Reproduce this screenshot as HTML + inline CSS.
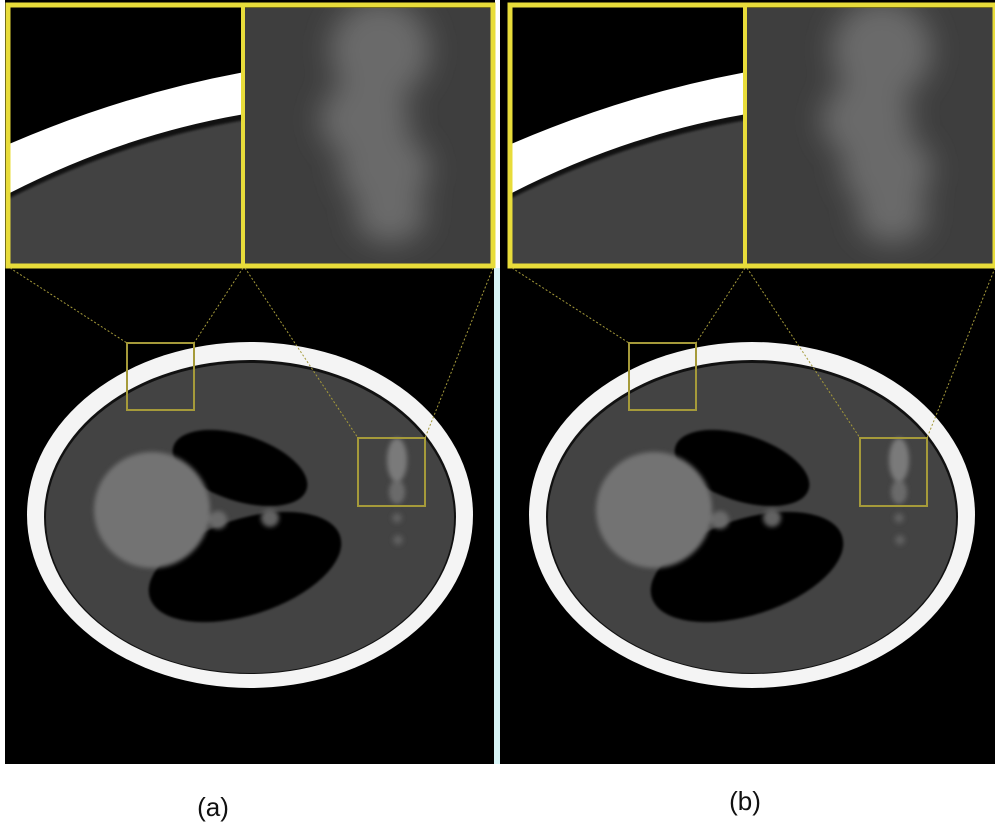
<!DOCTYPE html>
<html><head><meta charset="utf-8"><style>
html,body{margin:0;padding:0;background:#fff;width:1001px;height:822px;overflow:hidden}
svg{display:block}
text{font-family:"Liberation Sans",sans-serif}
</style></head><body>
<svg width="1001" height="822" viewBox="0 0 1001 822">
<defs>
<filter id="b1" x="-50%" y="-50%" width="200%" height="200%"><feGaussianBlur stdDeviation="1.2"/></filter>
<filter id="b6" x="-50%" y="-50%" width="200%" height="200%"><feGaussianBlur stdDeviation="14"/></filter>
<filter id="b3" x="-50%" y="-50%" width="200%" height="200%"><feGaussianBlur stdDeviation="2.5"/></filter>
<clipPath id="cl"><rect x="10" y="8" width="232" height="256"/></clipPath>
<clipPath id="cr"><rect x="245" y="8" width="248" height="256"/></clipPath>
<g id="panel">
  <rect x="5" y="0" width="490" height="764" fill="#000"/>
  <g clip-path="url(#cl)">
    <rect x="10" y="8" width="232" height="256" fill="#000"/>
    <path d="M0,300 L0,148 Q120,95 245,72 L245,300 Z" fill="#fff"/>
    <path d="M0,300 L0,198 Q120,135 245,114 L245,300 Z" fill="#111"/>
    <path d="M0,300 L0,203 Q120,141 245,120 L245,300 Z" fill="#434343" filter="url(#b1)"/>
  </g>
  <g clip-path="url(#cr)">
    <rect x="245" y="8" width="248" height="256" fill="#3e3e3e"/>
    <g filter="url(#b6)" fill="#6a6a6a">
      <ellipse cx="380" cy="50" rx="50" ry="50"/>
      <ellipse cx="365" cy="120" rx="45" ry="40"/>
      <ellipse cx="385" cy="170" rx="45" ry="38"/>
      <ellipse cx="390" cy="215" rx="35" ry="28"/>
    </g>
  </g>
  <rect x="8" y="5" width="485" height="261" fill="none" stroke="#e8dc3a" stroke-width="5"/>
  <line x1="243" y1="5" x2="243" y2="266" stroke="#e8dc3a" stroke-width="4"/>
  <ellipse cx="250" cy="515" rx="223" ry="173" fill="#f4f4f4"/>
  <ellipse cx="250" cy="517" rx="206" ry="157" fill="#111"/>
  <ellipse cx="250" cy="518" rx="204" ry="155" fill="#434343"/>
  <g filter="url(#b1)">
    <ellipse cx="240" cy="468" rx="70" ry="33" transform="rotate(18 240 468)" fill="#000"/>
    <ellipse cx="245" cy="567" rx="100" ry="48" transform="rotate(-18 245 567)" fill="#000"/>
  </g>
  <g filter="url(#b3)">
    <circle cx="152" cy="510" r="58" fill="#737373"/>
    <circle cx="218" cy="520" r="9" fill="#6a6a6a"/>
    <circle cx="270" cy="518" r="9" fill="#626262"/>
    <ellipse cx="397" cy="460" rx="10" ry="22" fill="#7a7a7a"/>
    <ellipse cx="397" cy="492" rx="8" ry="12" fill="#6a6a6a"/>
    <circle cx="397" cy="518" r="5" fill="#5e5e5e"/>
    <circle cx="398" cy="540" r="5" fill="#5e5e5e"/>
  </g>
  <rect x="127" y="343" width="67" height="67" fill="none" stroke="#a59a3a" stroke-width="2"/>
  <rect x="358" y="438" width="67" height="68" fill="none" stroke="#a59a3a" stroke-width="2"/>
  <g stroke="#a59a3a" stroke-width="1" stroke-dasharray="2,2" fill="none">
    <line x1="10" y1="268" x2="127" y2="343"/>
    <line x1="243" y1="268" x2="194" y2="343"/>
    <line x1="245" y1="268" x2="358" y2="438"/>
    <line x1="493" y1="268" x2="425" y2="438"/>
  </g>
</g>
</defs>
<rect width="1001" height="822" fill="#fff"/>
<g><use href="#panel"/></g>
<rect x="500" y="0" width="495" height="764" fill="#000"/>
<g><use href="#panel" transform="translate(502,0)"/></g>
<rect x="995" y="0" width="6" height="764" fill="#fff"/>
<rect x="494" y="268" width="6" height="496" fill="#d8f4f6"/>
<text x="213" y="816" font-size="26" text-anchor="middle" fill="#111">(a)</text>
<text x="745" y="810" font-size="26" text-anchor="middle" fill="#111">(b)</text>
</svg>
</body></html>
